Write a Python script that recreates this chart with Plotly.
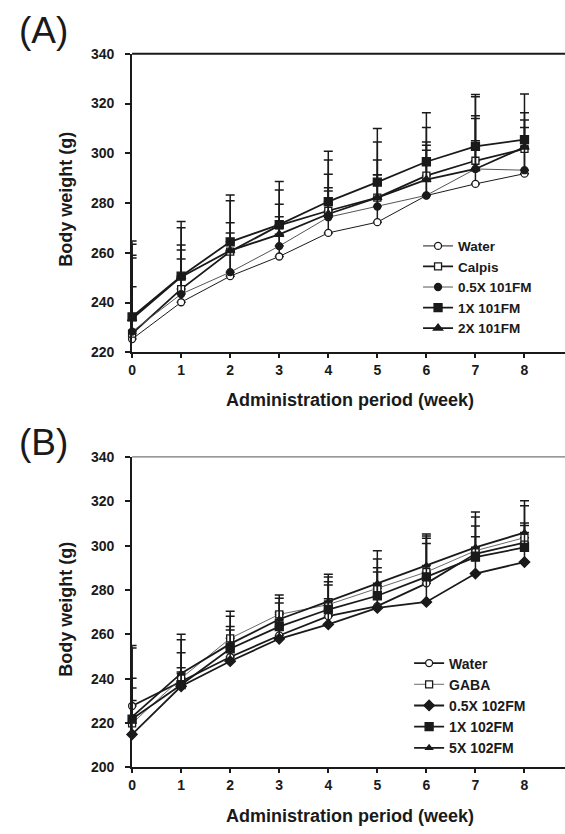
import plotly.graph_objects as go

weeks = [0, 1, 2, 3, 4, 5, 6, 7, 8]
x_ticks = [0, 1, 2, 3, 4, 5, 6, 7, 8]

# Panel A
a_names = ["Water", "Calpis", "0.5X 101FM", "1X 101FM", "2X 101FM"]
a_water = [225.3, 240.1, 250.6, 258.5, 268.0, 272.3, 283.0, 287.7, 291.8]
a_water_sd = [21.0, 17.4, 10.3, 12.5, 16.8, 19.1, 18.2, 17.3, 12.7]
a_calpis = [227.5, 245.4, 260.5, 271.0, 276.9, 282.2, 291.0, 297.0, 301.8]
a_calpis_sd = [30.4, 17.7, 11.6, 8.5, 14.7, 15.1, 13.5, 17.0, 11.6]
a_05x = [228.3, 243.4, 252.2, 262.7, 274.3, 278.6, 283.1, 293.7, 293.2]
a_05x_sd = [30.7, 17.7, 15.8, 11.8, 11.8, 12.8, 20.1, 21.4, 17.2]
a_1x = [234.2, 250.6, 264.4, 271.3, 280.6, 288.4, 296.6, 302.8, 305.5]
a_1x_sd = [30.5, 22.0, 18.8, 17.4, 20.2, 21.6, 19.7, 20.8, 18.3]
a_2x = [233.5, 250.3, 260.9, 267.4, 275.6, 282.2, 289.4, 293.7, 302.5]
a_2x_sd = [29.9, 19.8, 20.0, 17.8, 21.7, 22.3, 21.0, 29.0, 13.8]
a_yticks = [220, 240, 260, 280, 300, 320, 340]

# Panel B
b_names = ["Water", "GABA", "0.5X 102FM", "1X 102FM", "5X 102FM"]
b_water = [227.7, 238.8, 249.8, 259.5, 268.2, 272.7, 283.0, 296.3, 301.4]
b_water_sd = [8.1, 6.2, 12.2, 10.5, 14.0, 15.4, 18.0, 7.7, 7.7]
b_gaba = [219.9, 240.2, 258.2, 269.0, 273.4, 280.8, 288.1, 297.7, 303.6]
b_gaba_sd = [20.3, 17.4, 12.2, 8.8, 12.5, 13.2, 16.2, 15.2, 14.4]
b_05x = [214.9, 236.6, 247.9, 258.0, 264.5, 271.9, 274.6, 287.4, 292.6]
b_05x_sd = [15.3, 6.4, 8.1, 8.0, 11.5, 10.0, 11.4, 9.6, 7.4]
b_1x = [221.8, 237.3, 253.5, 263.5, 271.2, 277.4, 285.9, 294.8, 299.2]
b_1x_sd = [32.0, 14.4, 10.0, 10.6, 12.5, 12.6, 17.4, 14.1, 11.0]
b_5x = [222.8, 242.4, 255.7, 266.8, 274.9, 283.0, 291.0, 299.2, 305.9]
b_5x_sd = [32.2, 17.7, 12.5, 9.5, 12.2, 14.7, 14.2, 16.0, 14.3]
b_yticks = [200, 220, 240, 260, 280, 300, 320, 340]

W, H = 565, 834
FONT = "Arial, Liberation Sans, sans-serif"
INK = "#1a1a1a"

fig = go.Figure()


def add(name, y, sd, sym, lw, lcolor, xa, ya, leg, msize=7):
    fill = "white" if "open" in sym else INK
    fig.add_trace(go.Scatter(
        x=weeks, y=y, name=name, mode="lines+markers",
        xaxis=xa, yaxis=ya, legend=leg, cliponaxis=False,
        line=dict(color=lcolor, width=lw),
        marker=dict(symbol=sym.replace("-open", ""), size=msize, color=fill,
                    line=dict(color=INK, width=1.3)),
        error_y=dict(type="data", symmetric=False, array=sd,
                     arrayminus=[0] * len(sd), color=INK, thickness=1.5, width=4.5),
    ))


add(a_names[0], a_water, a_water_sd, "circle-open", 1.0, INK, "x", "y", "legend")
add(a_names[1], a_calpis, a_calpis_sd, "square-open", 1.8, INK, "x", "y", "legend")
add(a_names[2], a_05x, a_05x_sd, "circle", 1.0, "#555", "x", "y", "legend")
add(a_names[3], a_1x, a_1x_sd, "square", 1.8, INK, "x", "y", "legend", 8)
add(a_names[4], a_2x, a_2x_sd, "triangle-up", 1.8, INK, "x", "y", "legend", 8)

add(b_names[0], b_water, b_water_sd, "circle-open", 1.8, INK, "x2", "y2", "legend2")
add(b_names[1], b_gaba, b_gaba_sd, "square-open", 0.8, "#444", "x2", "y2", "legend2")
add(b_names[2], b_05x, b_05x_sd, "diamond", 1.8, INK, "x2", "y2", "legend2", 8)
add(b_names[3], b_1x, b_1x_sd, "square", 1.8, INK, "x2", "y2", "legend2", 8)
add(b_names[4], b_5x, b_5x_sd, "triangle-up", 1.8, INK, "x2", "y2", "legend2", 6)

x0 = 129 / W
xr = [0, (W - 129) / 49.4]
a_dom = [(H - 351) / H, (H - 46.7) / H]
b_dom = [(H - 774.3) / H, (H - 457.7) / H]

tickfont = dict(family=FONT, size=14, color=INK, weight="bold")
common_x = dict(range=xr, tickvals=x_ticks, showgrid=False, zeroline=False,
                showline=True, linecolor=INK, linewidth=2, ticks="outside",
                ticklen=4, tickwidth=1.5, tickcolor=INK, tickfont=tickfont,
                domain=[x0, 1], fixedrange=True)
common_y = dict(showgrid=False, zeroline=False, showline=True, linecolor=INK,
                linewidth=2, ticks="outside", ticklen=5, tickwidth=1.5,
                tickcolor=INK, tickfont=tickfont, fixedrange=True,
                ticklabelstandoff=8)

legfont = dict(family=FONT, size=13.5, color=INK, weight="bold")

fig.update_layout(
    width=W, height=H,
    margin=dict(l=0, r=0, t=0, b=0),
    paper_bgcolor="white", plot_bgcolor="white",
    font=dict(family=FONT, color=INK),
    xaxis=dict(common_x, anchor="y"),
    yaxis=dict(common_y, range=[220, 340], tickvals=a_yticks, domain=a_dom, anchor="x"),
    xaxis2=dict(common_x, anchor="y2"),
    yaxis2=dict(common_y, range=[200, 340], tickvals=b_yticks, domain=b_dom, anchor="x2"),
    legend=dict(x=417 / W, y=(H - 227) / H, xanchor="left", yanchor="top",
                bgcolor="rgba(0,0,0,0)", borderwidth=0, font=legfont,
                itemwidth=30, tracegroupgap=0),
    legend2=dict(x=408 / W, y=(H - 652) / H, xanchor="left", yanchor="top",
                 bgcolor="rgba(0,0,0,0)", borderwidth=0,
                 font=dict(legfont, size=14), itemwidth=30, tracegroupgap=0),
    showlegend=True,
    shapes=[
        dict(type="line", xref="x domain", yref="y domain", x0=0, x1=1, y0=1, y1=1,
             line=dict(color=INK, width=2)),
        dict(type="line", xref="x2 domain", yref="y2 domain", x0=0, x1=1, y0=1, y1=1,
             line=dict(color="#777", width=1.2)),
    ],
)

titlefont = dict(family=FONT, size=18, color=INK, weight="bold")
panelfont = dict(family=FONT, size=37, color=INK, weight=500)
ann = [
    dict(text="(A)", x=40 / W, y=(H - 23) / H, font=panelfont),
    dict(text="(B)", x=40 / W, y=(H - 443) / H, font=panelfont),
    dict(text="Administration period (week)", x=348 / W, y=(H - 400) / H, font=titlefont),
    dict(text="Administration period (week)", x=348 / W, y=(H - 824) / H, font=titlefont),
    dict(text="Body weight (g)", x=63 / W, y=(H - 195) / H, font=titlefont, textangle=-90),
    dict(text="Body weight (g)", x=63 / W, y=(H - 613) / H, font=titlefont, textangle=-90),
]
for a in ann:
    a.update(xref="paper", yref="paper", showarrow=False, xanchor="center", yanchor="middle")
fig.update_layout(annotations=ann)

fig.write_html("out.html")
